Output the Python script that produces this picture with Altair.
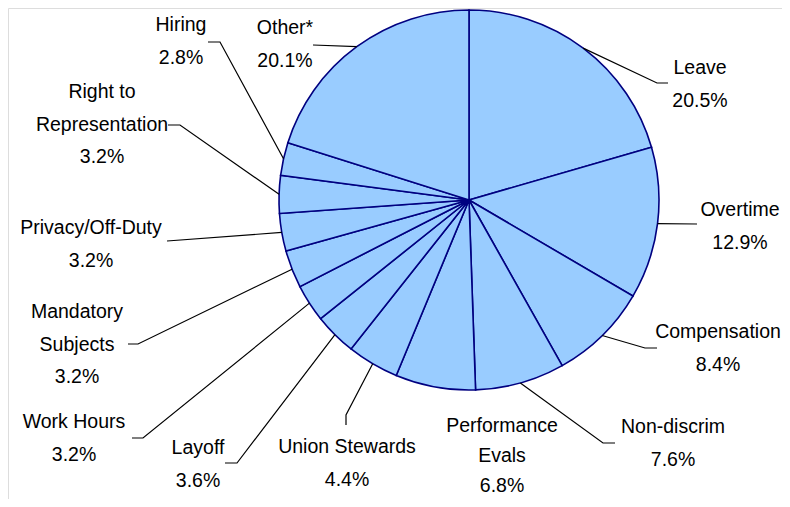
import math
import altair as alt
import pandas as pd

# ---- data ----
categories = ["Leave", "Overtime", "Compensation", "Non-discrim", "Performance Evals",
              "Union Stewards", "Layoff", "Work Hours", "Mandatory Subjects",
              "Privacy/Off-Duty", "Right to Representation", "Hiring", "Other*"]
values = [20.5, 12.9, 8.4, 7.6, 6.8, 4.4, 3.6, 3.2, 3.2, 3.2, 3.2, 2.8, 20.1]
label_names = [["Leave"], ["Overtime"], ["Compensation"], ["Non-discrim"],
               ["Performance", "Evals"], ["Union Stewards"], ["Layoff"], ["Work Hours"],
               ["Mandatory", "Subjects"], ["Privacy/Off-Duty"], ["Right to", "Representation"],
               ["Hiring"], ["Other*"]]

# ---- layout (page pixels) ----
W, H = 774, 491
CX, CY, R = 469, 200, 190
LINE_H = 32.5
# label centre x, first-line centre y, line height, leader points after the arc anchor
label_layout = {
    "Leave": (700, 68, LINE_H, [(657, 83), (668, 83)]),
    "Overtime": (740, 210, LINE_H, [(697, 224)]),
    "Compensation": (718, 332, LINE_H, [(645, 348), (657, 348)]),
    "Non-discrim": (673, 427, LINE_H, [(603, 443), (615, 443)]),
    "Performance Evals": (502, 426, 30, []),
    "Union Stewards": (347, 447, LINE_H, [(346, 415), (346, 425)]),
    "Layoff": (198, 448, LINE_H, [(237, 463), (225, 463)]),
    "Work Hours": (74, 422, LINE_H, [(143, 438), (132, 438)]),
    "Mandatory Subjects": (77, 312, LINE_H, [(138, 344), (128, 344)]),
    "Privacy/Off-Duty": (91, 228, LINE_H, [(167, 241)]),
    "Right to Representation": (102, 92, LINE_H, [(180, 125), (168, 125)]),
    "Hiring": (181, 25, LINE_H, [(220, 42), (208, 42)]),
    "Other*": (285, 28, LINE_H, [(313, 45)]),
}

pie_df = pd.DataFrame({"category": categories, "value": values, "idx": range(len(values))})

total = sum(values)
text_rows, line_rows = [], []
cum = 0.0
for i, (cat, v) in enumerate(zip(categories, values)):
    mid = (cum + v / 2) / total * 2 * math.pi
    cum += v
    lx, ly, lh, pts = label_layout[cat]
    lines = label_names[i] + [f"{v:.1f}%"]
    for j, t in enumerate(lines):
        text_rows.append({"category": cat, "text": t, "x": lx, "y": ly + j * lh})
    if pts:
        ax = CX + R * math.sin(mid)
        ay = CY - R * math.cos(mid)
        path = [(ax, ay)] + pts
        for k, (px, py) in enumerate(path):
            line_rows.append({"category": cat, "seq": k, "x": px, "y": py})

text_df = pd.DataFrame(text_rows)
line_df = pd.DataFrame(line_rows)

xs = alt.Scale(domain=[8, 8 + W], range=[0, W], nice=False, zero=False)
ys = alt.Scale(domain=[8, 8 + H], range=[0, H], nice=False, zero=False)

pie = alt.Chart(pie_df).mark_arc(
    outerRadius=R, fill="#99CCFF", stroke="#000080", strokeWidth=1.6
).encode(
    theta=alt.Theta("value:Q", stack=True),
    order=alt.Order("idx:Q"),
    x=alt.value(CX - 8),
    y=alt.value(CY - 8),
)

leaders = alt.Chart(line_df).mark_line(color="black", strokeWidth=1.2).encode(
    x=alt.X("x:Q", scale=xs, axis=None),
    y=alt.Y("y:Q", scale=ys, axis=None),
    detail="category:N",
    order="seq:Q",
)

labels = alt.Chart(text_df).mark_text(
    font="Liberation Sans", fontSize=19.5, color="black",
    align="center", baseline="middle"
).encode(
    x=alt.X("x:Q", scale=xs, axis=None),
    y=alt.Y("y:Q", scale=ys, axis=None),
    text="text:N",
)

chart = alt.layer(pie, leaders, labels).properties(
    width=W, height=H, autosize=alt.AutoSizeParams(type="none"), padding=0
).configure_view(stroke=None).configure(background="white")

chart.save("out.html", embed_options={"renderer": "svg", "actions": False})
